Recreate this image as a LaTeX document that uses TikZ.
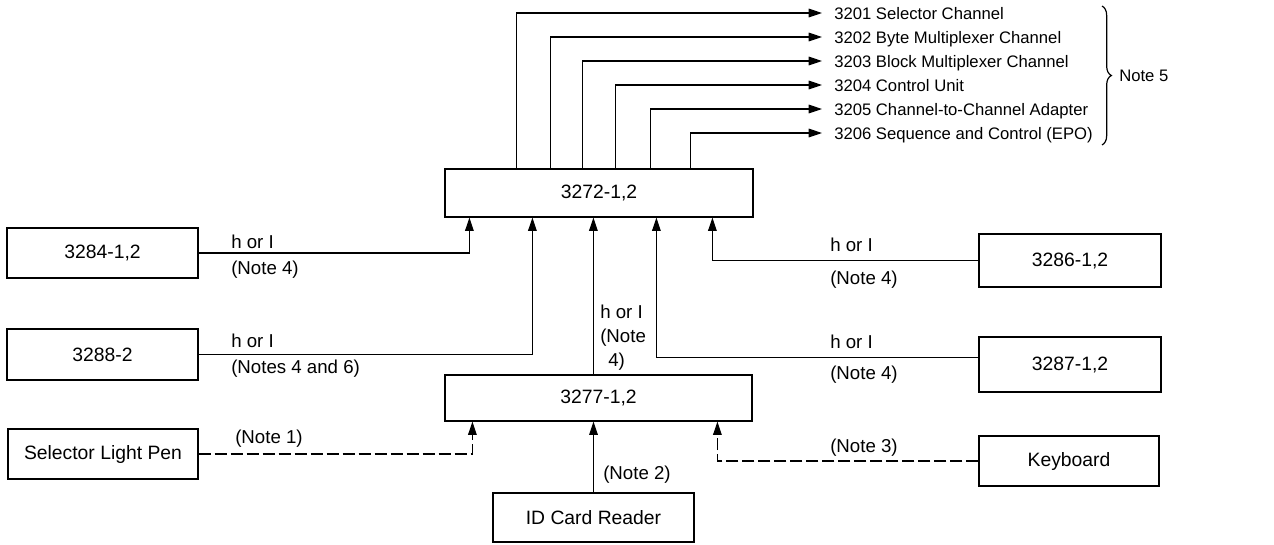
\documentclass[tikz,border=0pt]{standalone}
\usepackage{fontspec}
\setmainfont{Liberation Sans}
\usetikzlibrary{arrows.meta,decorations.pathreplacing,calc}
\newcommand\pxl[1]{#1*0.75pt}
\begin{document}
\begin{tikzpicture}[x=0.75pt,y=-0.75pt,
  box/.style={draw,line width=0.9pt,inner sep=0pt,font=\fontsize{14.5}{17}\selectfont},
  conn/.style={line width=0.8pt},
  arr/.style={conn,-{Triangle[length=10pt,width=6.5pt]}},
  opt/.style={arr,dash pattern=on 9pt off 3pt},
  lbl/.style={inner sep=0pt,anchor=west,font=\fontsize{14}{17}\selectfont,text height=10pt,text depth=0pt},
  lst/.style={inner sep=0pt,anchor=west,font=\fontsize{12.5}{15}\selectfont,text height=9.1pt,text depth=0pt}]
\useasboundingbox (0,0) rectangle (1274,544);

% boxes
\node[box,minimum width=\pxl{308},minimum height=\pxl{48}] (b3272) at (599,193) {3272-1,2};
\node[box,minimum width=\pxl{307},minimum height=\pxl{46}] (b3277) at (598.5,398) {3277-1,2};
\node[box,minimum width=\pxl{191},minimum height=\pxl{50}] (b3284) at (102.5,253) {3284-1,2};
\node[box,minimum width=\pxl{191},minimum height=\pxl{51}] (b3288) at (102.5,354.5) {3288-2};
\node[box,minimum width=\pxl{190},minimum height=\pxl{50}] (bpen) at (103,454) {Selector Light Pen};
\node[box,minimum width=\pxl{201},minimum height=\pxl{49}] (bid) at (593.5,517.5) {ID Card Reader};
\node[box,minimum width=\pxl{182},minimum height=\pxl{53}] (b3286) at (1070,260.5) {3286-1,2};
\node[box,minimum width=\pxl{182},minimum height=\pxl{55}] (b3287) at (1070,364.5) {3287-1,2};
\node[box,minimum width=\pxl{180},minimum height=\pxl{50}] (bkey) at (1069,461) {Keyboard};

% channel list
\node[lst] (l1) at (834,13) {3201 Selector Channel};
\node[lst] (l2) at (834,37) {3202 Byte Multiplexer Channel};
\node[lst] (l3) at (834,61) {3203 Block Multiplexer Channel};
\node[lst] (l4) at (834,85) {3204 Control Unit};
\node[lst] (l5) at (834,109) {3205 Channel-to-Channel Adapter};
\node[lst] (l6) at (834,133) {3206 Sequence and Control (EPO)};
\draw[line width=0.9pt,decorate,decoration={brace,amplitude=7pt}] (1102,6) -- (1102,145);
\node[lst] (n5) at (1119,75.5) {Note 5};

% outputs of 3272
\draw[arr] ([xshift=\pxl{72}]b3272.north west) |- ([xshift=-\pxl{12}]l1.west);
\draw[arr] ([xshift=\pxl{106}]b3272.north west) |- ([xshift=-\pxl{12}]l2.west);
\draw[arr] ([xshift=\pxl{138}]b3272.north west) |- ([xshift=-\pxl{12}]l3.west);
\draw[arr] ([xshift=\pxl{171}]b3272.north west) |- ([xshift=-\pxl{12}]l4.west);
\draw[arr] ([xshift=\pxl{206}]b3272.north west) |- ([xshift=-\pxl{12}]l5.west);
\draw[arr] ([xshift=\pxl{246}]b3272.north west) |- ([xshift=-\pxl{12}]l6.west);

% inputs of 3272
\draw[arr] (b3284.east) -| ([xshift=\pxl{25}]b3272.south west);
\draw[arr] (b3288.east) -| ([xshift=\pxl{88}]b3272.south west);
\draw[arr] ([xshift=\pxl{149}]b3277.north west) -- ([xshift=\pxl{149}]b3272.south west);
\draw[arr] ([yshift=\pxl{7}]b3287.west) -| ([xshift=\pxl{212}]b3272.south west);
\draw[arr] (b3286.west) -| ([xshift=\pxl{268}]b3272.south west);

% inputs of 3277
\draw[opt] (bpen.east) -| ([xshift=\pxl{28}]b3277.south west);
\draw[arr] (bid.north) -- (bid.north |- b3277.south);
\draw[opt] (bkey.west) -| ([xshift=\pxl{273}]b3277.south west);

% labels
\node[lbl] (a1) at (231,242) {h or I};
\node[lbl] (a2) at (231,268) {(Note 4)};
\node[lbl] (a3) at (231,341) {h or I};
\node[lbl] (a4) at (231,367) {(Notes 4 and 6)};
\node[lbl] (a5) at (235,437) {(Note 1)};
\node[inner sep=0pt,anchor=north west,align=left,font=\fontsize{14}{18}\selectfont] (a6) at (600,305)
  {h or I\\(Note\\\hspace*{6pt}4)};
\node[lbl] (a7) at (603,473) {(Note 2)};
\node[lbl] (a8) at (830,245) {h or I};
\node[lbl] (a9) at (830,278) {(Note 4)};
\node[lbl] (a10) at (830,342) {h or I};
\node[lbl] (a11) at (830,373) {(Note 4)};
\node[lbl] (a12) at (830,446) {(Note 3)};
\end{tikzpicture}
\end{document}
